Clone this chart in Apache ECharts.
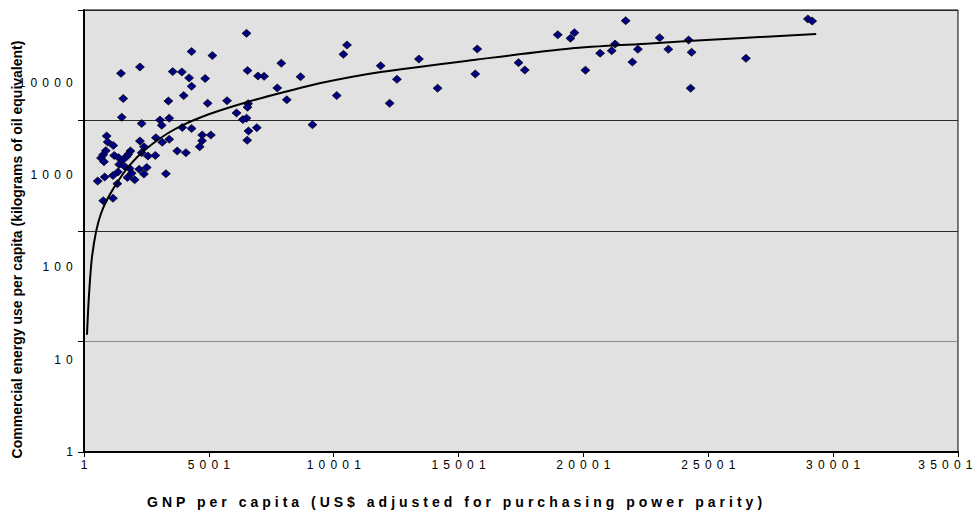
<!DOCTYPE html>
<html>
<head>
<meta charset="utf-8">
<script src="https://cdn.jsdelivr.net/npm/echarts@6/dist/echarts.min.js"></script>
<style>
html,body{margin:0;padding:0;background:#fff;}
#chart{width:979px;height:513px;}
</style>
</head>
<body>
<div id="chart"></div>
<script>
// GNP per capita (PPP US$) for each country point
const gnp = [6508,4308,5140,1480,2240,3552,3920,4208,4852,4308,1572,3380,3992,4952,6548,6968,7212,7900,8672,7740,8120,5728,6572,6548,10120,10532,10388,6108,6360,6508,6588,6920,6536,9148,1512,2308,3044,3412,3112,3936,4308,4732,5080,4728,4632,908,948,1172,872,768,680,800,2240,2880,3132,3412,2400,1860,1772,1708,1212,1380,1560,2308,2560,2856,3732,4080,1412,1640,1828,2212,2512,1908,1360,1160,828,548,1336,1740,2028,2400,3280,772,1160,11880,12240,12532,13412,14160,15748,15668,17400,17652,18972,19480,19640,20080,20668,21132,21268,21692,21960,22180,23052,23400,24212,24332,24292,26508,28988,29160];
// Commercial energy use per capita (kg of oil equivalent)
const energy = [6150,4210,3870,2670,3050,2770,2750,2430,2400,2040,1580,1500,1680,1430,2830,2530,2510,3300,2490,1970,1540,1510,1420,1320,1680,4820,3970,1170,1020,1050,803,861,663,916,1070,940,1010,1050,905,866,847,739,739,655,579,724,639,594,533,489,458,424,652,698,635,676,579,530,494,472,482,462,442,511,477,483,530,511,400,382,368,362,376,333,342,318,308,283,268,305,291,328,330,188,198,3130,1430,2360,3600,1960,4440,2640,3340,2860,5970,5540,6230,2850,4060,4280,4920,8000,3380,4410,5610,4410,5350,4140,1960,3650,8300,7940];
// Trend line
const trendGnp = [120,172,240,320,480,680,948,1308,1708,2172,2708,3372,4040,4708,5440,6612,7948,9480,11880,15748,19480,22680,24200,29320];
const trendEnergy = [11.5,20.6,36,58.2,97.9,144,197,270,364,477,607,771,929,1076,1231,1486,1791,2184,2748,3565,4485,4977,5240,6067];
// Tick labels
const xTickLabels = ['1','5001','10001','15001','20001','25001','30001','35001'];
const yTickLabels = ['1','10','100','1000','10000'];
const xTitle = 'GNP per capita (US$ adjusted for purchasing power parity)';
const yTitle = 'Commercial energy use per capita (kilograms of oil equivalent)';

const FONT = "'Liberation Sans', Arial, Helvetica, sans-serif";
const LS = 5.2;
const chart = echarts.init(document.getElementById('chart'), null, {renderer: 'svg', width: 979, height: 513});

const points = gnp.map((g, i) => [g, energy[i]]);
const trend = trendGnp.map((g, i) => [g, trendEnergy[i]]);

const option = {
  animation: false,
  backgroundColor: '#ffffff',
  grid: {left: 84, right: 21, top: 10, bottom: 61, show: true, backgroundColor: '#e1e1e1', borderColor: '#000', borderWidth: 1},
  xAxis: {
    type: 'value', min: 0, max: 35000, interval: 5000,
    axisLine: {show: true, lineStyle: {color: '#000', width: 2}},
    axisTick: {show: true, length: 5, lineStyle: {color: '#000', width: 1}},
    axisLabel: {color: '#000', fontSize: 12, fontFamily: FONT, margin: 7,
      formatter: v => xTickLabels[Math.round(v / 5000)]},
    splitLine: {show: false}
  },
  yAxis: [
    {
      type: 'log', logBase: 10, min: 1, max: 10000,
      axisLine: {show: true, lineStyle: {color: '#000', width: 2}},
      axisTick: {show: true, length: 6, lineStyle: {color: '#000', width: 1}},
      axisLabel: {show: false},
      splitLine: {show: true, lineStyle: {color: ['#222', '#8c8c8c', '#2a2a2a', '#2a2a2a', '#222'], width: 1}}
    },
    {
      type: 'value', position: 'left', min: 0, max: 4.791, interval: 1,
      axisLine: {show: false}, axisTick: {show: false}, splitLine: {show: false},
      axisLabel: {color: '#000', fontSize: 12, fontFamily: FONT, margin: 6,
        formatter: v => Number.isInteger(v) ? yTickLabels[v] : ''}
    }
  ],
  graphic: [
    {type: 'text', x: 147, y: 502, z: 100,
      style: {text: xTitle, font: 'bold 14px ' + FONT, fill: '#000', textAlign: 'left', textVerticalAlign: 'middle'}},
    {type: 'text', x: 17, y: 249.5, rotation: Math.PI / 2, z: 100,
      style: {text: yTitle, font: 'bold 14px ' + FONT, fill: '#000', textAlign: 'center', textVerticalAlign: 'middle'}}
  ],
  series: [
    {type: 'scatter', xAxisIndex: 0, yAxisIndex: 0, data: points, symbol: 'diamond', symbolSize: [9, 8],
      itemStyle: {color: '#000080', borderColor: '#000', borderWidth: 0.7, opacity: 1}, z: 3},
    {type: 'line', xAxisIndex: 0, yAxisIndex: 0, data: trend, showSymbol: false, smooth: 0.25,
      lineStyle: {color: '#000', width: 2}, z: 4}
  ]
};
chart.setOption(option);

function applySpacing() {
  document.querySelectorAll('#chart text').forEach(t => {
    const s = t.textContent;
    if (/^\d+$/.test(s)) {
      t.style.letterSpacing = LS + 'px';
      if (t.getAttribute('text-anchor') === 'middle') {
        t.setAttribute('dx', s === xTickLabels[xTickLabels.length - 1] ? '-10' : String(LS / 2));
      }
    } else if (s.indexOf('GNP') === 0) {
      t.style.letterSpacing = '4px';
    }
  });
}
applySpacing();
chart.on('finished', applySpacing);
</script>
</body>
</html>
